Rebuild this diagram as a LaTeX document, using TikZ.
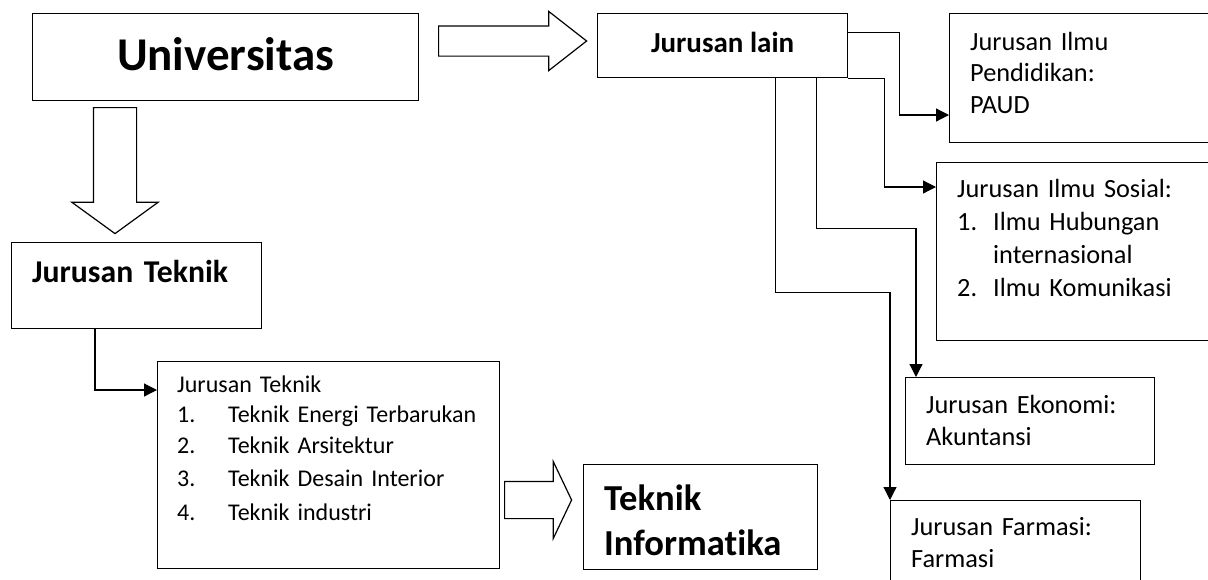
\documentclass[tikz,border=0pt]{standalone}
\usepackage{fontspec}
\setmainfont{Carlito}[Ligatures=NoCommon]
\usetikzlibrary{shapes.arrows,arrows.meta,positioning}

\newcommand{\butir}[2][51pt]{\makebox[#1][l]{#2}}

\tikzset{
  kotak/.style={draw, line width=1.2pt, inner sep=0pt, anchor=north west},
  isi/.style={anchor=base west, inner sep=0pt, text width=330pt, align=left,
    font=\fontsize{26.3}{32}\selectfont},
  panah/.style={draw, line width=1.2pt, single arrow, inner xsep=0pt, anchor=tail},
  garis/.style={line width=1.2pt, -{Triangle[length=13pt,width=13pt]}},
}

\begin{document}
\begin{tikzpicture}[x=1pt, y=-1pt]
  \useasboundingbox (0,0) rectangle (1208,579);
  \clip (0,0) rectangle (1208,579);
  % Boxes
  \node[kotak, minimum width=386pt, minimum height=87pt, text depth=6pt,
    font=\bfseries\fontsize{47}{56}\selectfont] (uni) at (32,13) {Universitas};
  \node[kotak, minimum width=250pt, minimum height=64pt, text depth=6pt,
    font=\bfseries\fontsize{29}{35}\selectfont] (lain) at (597,13) {Jurusan lain};
  \node[kotak, minimum width=250pt, minimum height=86pt] (tek) at (11,242) {};
  \node[kotak, minimum width=342pt, minimum height=207pt] (daftar) at (157,361) {};
  \node[kotak, minimum width=234pt, minimum height=105pt] (info) at (583,464) {};
  \node[kotak, minimum width=300pt, minimum height=129pt] (paud) at (949,13) {};
  \node[kotak, minimum width=300pt, minimum height=178pt] (sosial) at (936,162) {};
  \node[kotak, minimum width=249pt, minimum height=87pt] (ekonomi) at (905,377) {};
  \node[kotak, minimum width=250pt, minimum height=110pt] (farmasi) at (890,500) {};
  % Texts
  \node[isi, font=\bfseries\fontsize{31.7}{38}\selectfont] (tek-t)
    at ([shift={(21pt,-40pt)}]tek.north west) {Jurusan Teknik};
  \node[isi, font=\fontsize{24}{30}\selectfont] (daftar-t)
    at ([shift={(20pt,-31pt)}]daftar.north west)
    {Jurusan Teknik\\
     \butir{1.}Teknik Energi Terbarukan\\[1pt]
     \butir{2.}Teknik Arsitektur\\[3pt]
     \butir{3.}Teknik Desain Interior\\[4pt]
     \butir{4.}Teknik industri};
  \node[isi, font=\bfseries\fontsize{36.6}{45}\selectfont] (info-t)
    at ([shift={(21pt,-46pt)}]info.north west) {Teknik\\Informatika};
  \node[isi, font=\fontsize{26.3}{31.5}\selectfont] (paud-t)
    at ([shift={(21pt,-37pt)}]paud.north west) {Jurusan Ilmu\\Pendidikan:\\PAUD};
  \node[isi, font=\fontsize{26.3}{33}\selectfont] (sosial-t)
    at ([shift={(21pt,-35pt)}]sosial.north west)
    {Jurusan Ilmu Sosial:\\
     \butir[36pt]{1.}Ilmu Hubungan\\
     \hspace*{36pt}internasional\\
     \butir[36pt]{2.}Ilmu Komunikasi};
  \node[isi] (ekonomi-t)
    at ([shift={(21pt,-36pt)}]ekonomi.north west) {Jurusan Ekonomi:\\Akuntansi};
  \node[isi] (farmasi-t)
    at ([shift={(21pt,-35pt)}]farmasi.north west) {Jurusan Farmasi:\\Farmasi};
  % Block arrows
  \node[panah, minimum height=148pt, inner ysep=14.5pt,
    single arrow head extend=14.5pt, single arrow tip angle=76] (kanan) at (438,41) {};
  \node[panah, rotate=-90, minimum height=126pt, inner ysep=21pt,
    single arrow head extend=21.5pt, single arrow tip angle=108] (bawah) at (115,107) {};
  \node[panah, minimum height=67pt, inner ysep=18pt,
    single arrow head extend=20pt, single arrow tip angle=129] (keinfo) at (504,500) {};
  % Connectors
  \draw[garis] ([xshift=84pt]tek.south west) |- ([yshift=-29pt]daftar.north west);
  \draw[garis] ([yshift=13pt]lain.east) -- ++(51,0) |- ([yshift=-102pt]paud.north west);
  \draw[garis] (lain.south east) -- ++(36,0) |- ([yshift=-25pt]sosial.north west);
  \draw[garis] ([xshift=-32pt]lain.south east) -- ++(0,150) -| ([xshift=11pt]ekonomi.north west);
  \draw[garis] ([xshift=-73pt]lain.south east) -- ++(0,214) -| (farmasi.north west);
\end{tikzpicture}
\end{document}
